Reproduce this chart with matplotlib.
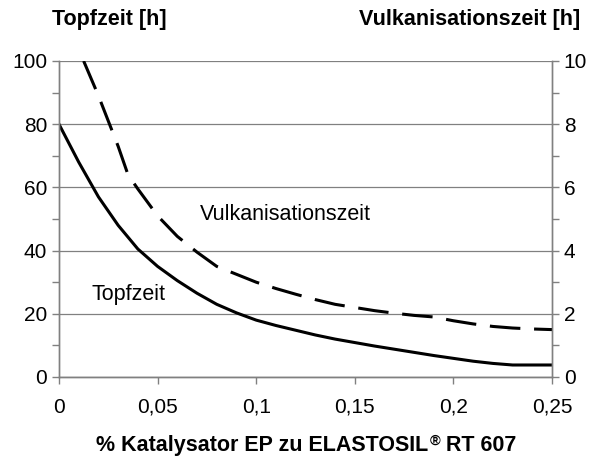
import matplotlib.pyplot as plt
from matplotlib.ticker import MultipleLocator, FuncFormatter

plt.rcParams['font.family'] = ['Liberation Sans', 'DejaVu Sans']

# Topfzeit [h] (left axis)
topf_x = [0, 0.01, 0.02, 0.03, 0.04, 0.05, 0.06, 0.07, 0.08, 0.09, 0.1, 0.11, 0.12,
          0.13, 0.14, 0.15, 0.16, 0.17, 0.18, 0.19, 0.2, 0.21, 0.22, 0.23, 0.24, 0.25]
topf_y = [80, 68, 57, 48, 40.5, 35, 30.5, 26.5, 23, 20.3, 18.0, 16.3, 14.8,
          13.3, 12, 10.9, 9.8, 8.8, 7.8, 6.8, 5.9, 5.0, 4.3, 3.8, 3.8, 3.8]

# Vulkanisationszeit [h] (right axis)
vulk_x = [0.0125, 0.02, 0.025, 0.03, 0.035, 0.04, 0.05, 0.06, 0.07, 0.08, 0.09, 0.1, 0.11,
          0.12, 0.13, 0.14, 0.15, 0.16, 0.17, 0.18, 0.19, 0.2, 0.21, 0.22, 0.23, 0.24, 0.25]
vulk_y = [10, 8.9, 8.1, 7.3, 6.4, 5.95, 5.1, 4.45, 3.95, 3.5, 3.25, 3.0, 2.8,
          2.62, 2.45, 2.3, 2.2, 2.1, 2.02, 1.95, 1.9, 1.78, 1.68, 1.6, 1.55, 1.52, 1.5]

W, H = 592, 457
fig = plt.figure(figsize=(W / 100, H / 100), dpi=100)
ax = fig.add_axes([59 / W, 1 - 377 / H, 493 / W, 316 / H])
ax2 = ax.twinx()

ax.plot(topf_x, topf_y, color='black', lw=2.2, solid_joinstyle='round')
ax2.plot(vulk_x, vulk_y, color='black', lw=2.2, dashes=(10, 4.5))

ax.set_xlim(0, 0.25)
ax.set_ylim(0, 100)
ax2.set_ylim(0, 10)

ax.xaxis.set_major_locator(MultipleLocator(0.05))
ax.yaxis.set_major_locator(MultipleLocator(20))
ax.yaxis.set_minor_locator(MultipleLocator(10))
ax2.yaxis.set_major_locator(MultipleLocator(2))
ax2.yaxis.set_minor_locator(MultipleLocator(1))

comma = FuncFormatter(lambda v, p: ('%g' % round(v, 3)).replace('.', ','))
ax.xaxis.set_major_formatter(comma)

ax.grid(axis='y', color='#808080', lw=0.9)
ax.set_axisbelow(True)

for a in (ax, ax2):
    a.spines['top'].set_visible(False)
    for s in ('left', 'right', 'bottom'):
        a.spines[s].set_color('#808080')
        a.spines[s].set_linewidth(1)
    a.tick_params(which='both', direction='out', color='#808080', labelsize=15, width=1)
    a.tick_params(which='major', length=5)
    a.tick_params(which='minor', length=5)
ax.tick_params(axis='x', pad=10)

ax.text(0.0715, 51.3, 'Vulkanisationszeit', fontsize=15.5, va='center')
ax.text(0.0166, 26, 'Topfzeit', fontsize=15.5, va='center')

fig.text(52 / W, 1 - 20 / H, 'Topfzeit [h]', fontsize=15.5, fontweight='bold', va='center')
fig.text(580 / W, 1 - 20 / H, 'Vulkanisationszeit [h]', fontsize=15.5, fontweight='bold',
         va='center', ha='right')

# x axis title with raised ® sign, pieced together
base_y = 1 - 451 / H
t1 = fig.text(96 / W, base_y, '% Katalysator EP zu ELASTOSIL', fontsize=15.5,
              fontweight='bold', va='baseline')
fig.canvas.draw()
r = fig.canvas.get_renderer()
x1 = t1.get_window_extent(r).x1
t2 = fig.text(x1 / W + 1 / W, base_y + 6 / H, '\u00ae', fontsize=10.5, fontweight='bold', va='baseline')
x2 = t2.get_window_extent(r).x1
fig.text(x2 / W, base_y, ' RT 607', fontsize=15.5, fontweight='bold', va='baseline')

fig.savefig('out.png', dpi=100)
